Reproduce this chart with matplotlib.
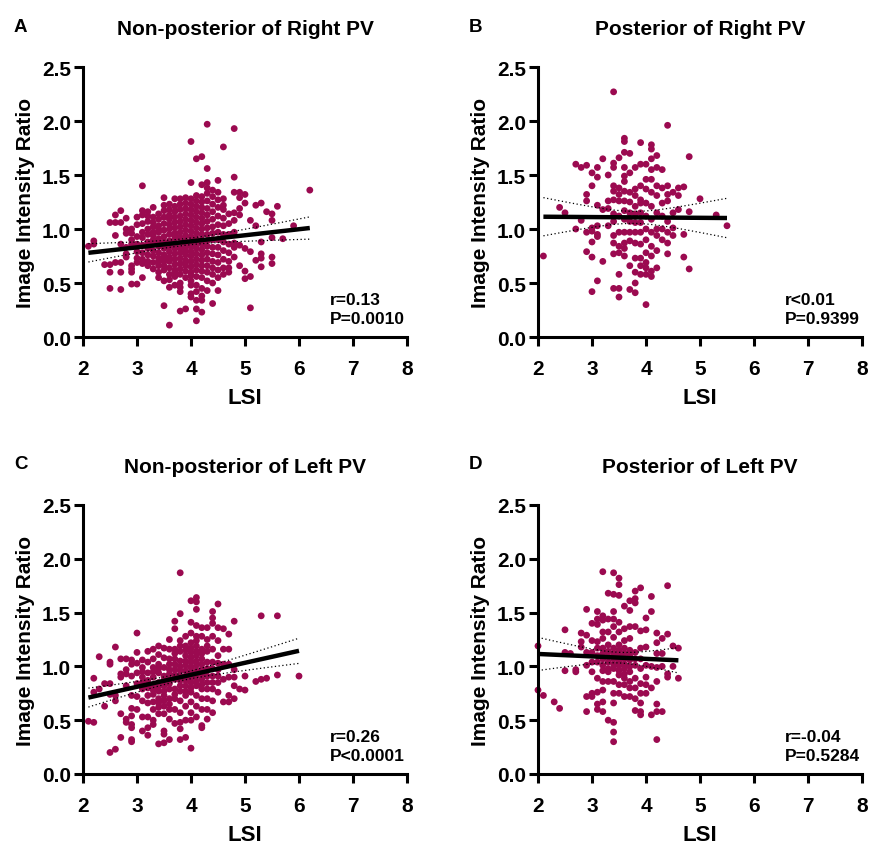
import numpy as np
import matplotlib
matplotlib.use("Agg")
import matplotlib.pyplot as plt

plt.rcParams['font.family'] = ['Liberation Sans', 'DejaVu Sans']
plt.rcParams['font.weight'] = 'bold'

DOT = '#9B0A50'

# ---------------- Panel A: Non-posterior of Right PV ----------------
a_cols = [2.1, 2.2, 2.4, 2.5, 2.6, 2.7, 2.8, 2.9, 3.0, 3.1, 3.2, 3.3, 3.4, 3.5, 3.6,
          3.7, 3.8, 3.9, 4.0, 4.1, 4.2, 4.3, 4.4, 4.5, 4.6, 4.7, 4.8, 4.9, 5.0, 5.1,
          5.2, 5.3, 5.4, 5.5, 5.6, 5.7, 5.9, 6.2]
a_vals = [
    [0.84],
    [0.89, 0.86],
    [0.67],
    [1.06, 0.67, 0.60, 0.45],
    [1.13, 0.94, 0.69, 1.06],
    [1.17, 1.06, 0.86, 0.69, 0.60, 0.44],
    [1.10, 1.00, 0.96, 0.83, 0.74, 0.77],
    [1.00, 0.96, 0.86, 0.66, 0.60, 0.49, 0.63, 0.90],
    [1.11, 0.93, 0.79, 0.69, 0.49, 0.86, 1.04, 0.73],
    [1.40, 1.17, 1.13, 0.97, 0.85, 0.68, 0.55, 0.78, 1.05, 0.92, 0.72],
    [1.16, 1.00, 0.76, 0.88, 0.95, 1.07, 0.70, 0.82, 0.66, 1.12],
    [1.20, 1.11, 0.94, 0.69, 0.80, 0.86, 1.02, 0.75, 0.90, 0.97, 0.63, 1.06],
    [1.03, 0.55, 0.70, 0.78, 0.84, 0.91, 0.97, 1.09, 1.14, 0.66, 0.88, 0.73, 1.00, 0.60],
    [1.29, 0.52, 0.29, 0.62, 0.70, 0.76, 0.82, 0.88, 0.93, 0.99, 1.05, 1.11, 1.17, 1.22, 0.66, 0.73],
    [0.46, 0.11, 0.58, 0.64, 0.70, 0.74, 0.79, 0.84, 0.89, 0.95, 1.00, 1.04, 1.09, 1.13, 1.18, 1.23, 0.53],
    [1.28, 0.48, 0.56, 0.62, 0.67, 0.72, 0.77, 0.82, 0.86, 0.91, 0.96, 1.01, 1.06, 1.11, 1.16, 1.21, 0.60, 0.94],
    [1.28, 0.42, 0.24, 0.50, 0.58, 0.63, 0.68, 0.73, 0.78, 0.82, 0.87, 0.92, 0.97, 1.02, 1.07, 1.12, 1.18, 1.23, 0.46],
    [1.29, 0.26, 0.55, 0.61, 0.66, 0.71, 0.76, 0.80, 0.85, 0.89, 0.94, 0.99, 1.04, 1.09, 1.14, 1.19, 1.24, 0.69, 0.83],
    [1.81, 1.43, 0.40, 0.37, 0.52, 0.60, 0.65, 0.70, 0.75, 0.79, 0.84, 0.88, 0.93, 0.98, 1.03, 1.08, 1.13, 1.18, 1.23, 1.28, 0.57, 0.48],
    [1.65, 0.34, 0.26, 0.15, 0.48, 0.56, 0.62, 0.67, 0.72, 0.77, 0.82, 0.86, 0.91, 0.96, 1.01, 1.06, 1.11, 1.16, 1.21, 1.26, 1.31, 0.42],
    [1.67, 1.41, 0.34, 0.23, 0.45, 0.55, 0.61, 0.66, 0.71, 0.76, 0.81, 0.86, 0.90, 0.95, 1.00, 1.05, 1.10, 1.15, 1.20, 1.25, 1.30, 0.38],
    [1.97, 1.56, 1.43, 0.43, 0.52, 0.60, 0.66, 0.72, 0.78, 0.84, 0.89, 0.95, 1.01, 1.07, 1.13, 1.19, 1.26, 1.33, 1.38],
    [0.31, 0.58, 0.64, 0.70, 0.77, 0.83, 0.90, 0.96, 1.02, 1.09, 1.16, 1.23, 1.30, 1.36, 0.50],
    [1.45, 0.43, 0.55, 0.62, 0.69, 0.76, 0.83, 0.90, 0.97, 1.04, 1.12, 1.20, 1.27, 1.34],
    [1.76, 1.28, 0.58, 0.64, 0.72, 0.80, 0.88, 0.95, 1.03, 1.10, 1.18, 1.22],
    [0.60, 0.70, 0.78, 0.86, 0.95, 1.05, 1.14, 0.64],
    [1.93, 1.48, 1.34, 0.97, 0.83, 0.87, 1.08, 0.74, 1.15],
    [1.34, 1.29, 1.19, 0.66, 0.85, 1.13],
    [1.32, 1.24, 0.82, 0.61, 0.54],
    [1.08, 0.79, 0.56, 0.27],
    [1.22, 1.03, 0.71],
    [1.24, 0.88, 0.77, 0.65, 0.73],
    [1.16],
    [1.14, 1.08, 0.92, 0.74, 0.68],
    [1.21],
    [0.91],
    [1.03],
    [1.36],
]
a_fit = [0.056, 0.662]     # slope, intercept of the drawn regression line

# ---------------- Panel B: Posterior of Right PV ----------------
b_cols = [2.1, 2.4, 2.5, 2.7, 2.8, 2.9, 3.0, 3.1, 3.2, 3.3, 3.4, 3.5, 3.6, 3.7, 3.8,
          3.9, 4.0, 4.1, 4.2, 4.3, 4.4, 4.5, 4.6, 4.7, 4.8, 5.0, 5.3, 5.5]
b_vals = [
    [0.75],
    [1.20],
    [1.15],
    [1.60, 1.00],
    [1.57, 1.08],
    [1.59, 1.32, 1.26, 0.97, 0.79],
    [1.52, 1.40, 1.01, 0.88, 0.74, 0.42, 0.98],
    [1.57, 1.48, 1.22, 1.03, 0.95, 0.93, 0.52],
    [1.65, 1.18, 0.70],
    [1.50, 1.26, 1.19, 1.03],
    [2.27, 1.61, 1.57, 1.40, 1.35, 1.27, 1.14, 1.07, 0.94, 0.87, 0.77, 0.45],
    [1.66, 1.38, 1.32, 1.26, 1.12, 0.97, 0.84, 0.78, 0.58, 0.45, 0.37],
    [1.84, 1.81, 1.71, 1.57, 1.49, 1.44, 1.35, 1.26, 1.17, 1.09, 0.97, 0.87, 0.82, 0.75],
    [1.70, 1.52, 1.34, 1.25, 1.15, 1.07, 0.97, 0.89, 0.66, 0.44],
    [1.57, 1.37, 1.31, 1.21, 1.14, 1.06, 0.97, 0.87, 0.73, 0.60, 0.50, 0.41],
    [1.80, 1.60, 1.40, 1.27, 1.15, 1.06, 0.97, 0.86, 0.73, 0.66, 0.58, 1.24],
    [1.60, 1.46, 1.37, 1.24, 1.12, 1.00, 0.90, 0.78, 0.69, 0.58, 0.30, 0.64],
    [1.78, 1.74, 1.65, 1.55, 1.46, 1.34, 1.21, 1.09, 0.97, 0.84, 0.75, 0.56, 0.61],
    [1.68, 1.57, 1.40, 1.31, 1.15, 1.00, 0.94, 0.80, 0.64],
    [1.55, 1.38, 1.24, 1.12, 1.00, 0.90],
    [1.96, 1.40, 1.32, 1.26, 1.07, 0.87, 0.77, 0.97],
    [1.34, 1.15, 1.01, 0.94],
    [1.38, 1.31, 1.18],
    [1.39, 0.95, 0.74],
    [1.67, 1.16, 0.63],
    [1.28],
    [1.13],
    [1.03],
]
b_fit = [-0.0035, 1.121]

# ---------------- Panel C: Non-posterior of Left PV ----------------
c_cols = [2.1, 2.2, 2.3, 2.4, 2.5, 2.6, 2.7, 2.8, 2.9, 3.0, 3.1, 3.2, 3.3, 3.4, 3.5,
          3.6, 3.7, 3.8, 3.9, 4.0, 4.1, 4.2, 4.3, 4.4, 4.5, 4.6, 4.7, 4.8, 4.9, 5.0,
          5.2, 5.3, 5.4, 5.6, 6.0]
c_vals = [
    [0.49],
    [0.48, 0.89, 0.76],
    [1.09, 0.79],
    [0.84, 0.63],
    [1.04, 1.02, 0.84, 0.74, 0.20],
    [1.18, 0.23, 0.73, 0.68],
    [1.07, 0.93, 0.90, 0.56, 0.34],
    [1.07, 0.97, 0.93, 0.82, 0.51, 0.48],
    [1.06, 1.02, 0.91, 0.73, 0.61, 0.54, 0.46, 0.32, 0.30, 0.43],
    [1.31, 1.13, 0.94, 0.84, 0.60, 1.03, 0.72],
    [1.06, 0.99, 0.90, 0.79, 0.68, 0.53, 0.40, 0.85, 0.95],
    [1.14, 0.94, 0.80, 0.66, 0.43, 0.36, 0.53, 1.04, 0.87, 0.73],
    [1.16, 1.07, 0.99, 0.90, 0.82, 0.74, 0.67, 0.60, 0.46, 0.50, 0.95, 0.78],
    [1.19, 1.11, 1.02, 0.94, 0.85, 0.77, 0.70, 0.62, 0.56, 0.28, 0.98, 0.81, 0.66],
    [1.17, 1.08, 0.99, 0.91, 0.82, 0.73, 0.63, 0.56, 0.40, 0.37, 0.29, 0.87, 0.77, 0.68],
    [1.25, 1.16, 1.07, 0.97, 0.88, 0.79, 0.70, 0.60, 0.51, 0.32, 1.02, 0.84, 0.65, 0.93],
    [1.42, 1.35, 1.16, 1.07, 0.97, 0.88, 0.79, 0.70, 0.60, 0.47, 1.12, 0.92, 0.74, 1.02],
    [1.87, 1.49, 1.24, 1.14, 1.05, 0.96, 0.87, 0.77, 0.68, 0.57, 0.48, 0.42, 0.32, 1.00, 0.82, 0.91, 1.19],
    [1.28, 1.19, 1.10, 1.01, 0.91, 0.82, 0.73, 0.63, 0.50, 0.34, 1.05, 0.87, 0.77, 0.96, 1.15],
    [1.61, 1.41, 1.31, 1.22, 1.13, 1.04, 0.94, 0.85, 0.76, 0.67, 0.57, 0.50, 0.24, 1.08, 0.99, 0.89, 0.80, 1.17],
    [1.64, 1.60, 1.53, 1.38, 1.28, 1.19, 1.10, 1.01, 0.91, 0.82, 0.73, 0.63, 0.53, 1.05, 0.96, 0.86, 1.14, 1.24],
    [1.36, 1.28, 1.16, 1.07, 0.97, 0.88, 0.79, 0.70, 0.60, 0.45, 0.43, 1.02, 0.93, 0.83, 1.12],
    [1.36, 1.25, 1.14, 1.04, 0.91, 0.79, 0.70, 0.60, 0.51, 0.98, 0.85, 1.19],
    [1.51, 1.45, 1.40, 1.28, 1.16, 1.04, 0.91, 0.79, 0.68, 0.57, 0.98, 0.85],
    [1.58, 1.36, 1.24, 1.10, 0.97, 0.85, 0.76, 1.03, 0.91],
    [1.35, 1.16, 0.88, 0.67, 1.02],
    [1.30, 1.16, 1.02, 0.90, 0.73, 0.67],
    [1.42, 0.97, 0.82, 0.70, 0.90],
    [0.79],
    [0.91, 0.78],
    [0.86],
    [1.47, 0.88],
    [0.89],
    [1.47, 0.92],
    [0.91],
]
c_fit = [0.1115, 0.476]

# ---------------- Panel D: Posterior of Left PV ----------------
d_cols = [2.0, 2.1, 2.3, 2.4, 2.5, 2.6, 2.7, 2.8, 2.9, 3.0, 3.1, 3.2, 3.3, 3.4, 3.5,
          3.6, 3.7, 3.8, 3.9, 4.0, 4.1, 4.2, 4.3, 4.4, 4.5, 4.6]
d_vals = [
    [1.19, 0.78],
    [0.73],
    [0.67],
    [0.61],
    [1.34, 1.13, 0.96],
    [1.12],
    [0.97, 0.95],
    [1.31, 1.23, 1.18],
    [1.53, 1.29, 1.13, 1.01, 0.72, 0.58],
    [1.40, 1.24, 1.13, 1.04, 0.95, 0.75, 0.72],
    [1.51, 1.44, 1.39, 1.23, 1.17, 1.04, 0.89, 0.76, 0.65, 0.60, 1.10],
    [1.88, 1.47, 1.43, 1.32, 1.26, 1.17, 1.07, 0.96, 0.86, 0.78, 0.67, 0.58, 1.12, 1.01],
    [1.68, 1.44, 1.32, 1.20, 1.09, 0.98, 0.86, 0.50, 0.95, 1.14, 1.04],
    [1.87, 1.67, 1.51, 1.44, 1.37, 1.27, 1.17, 1.07, 0.98, 0.86, 0.75, 0.66, 0.48, 0.39, 0.30, 1.12, 1.02],
    [1.82, 1.76, 1.66, 1.41, 1.32, 1.20, 1.10, 1.01, 0.92, 0.83, 0.75, 1.15, 1.05, 0.96],
    [1.56, 1.35, 1.24, 1.17, 1.07, 0.98, 0.89, 0.83, 0.72, 1.12, 1.02, 0.93],
    [1.61, 1.52, 1.37, 1.26, 1.15, 1.06, 0.95, 0.86, 0.80, 0.72, 1.10, 1.00],
    [1.70, 1.63, 1.59, 1.37, 1.13, 1.01, 0.89, 0.80, 0.70, 0.59, 1.07],
    [1.73, 1.33, 1.17, 1.07, 0.98, 0.84, 0.75, 0.66, 0.58, 0.55],
    [1.45, 1.34, 1.18, 1.01, 0.90, 0.83, 0.75],
    [1.65, 1.51, 1.00, 0.80, 0.55],
    [1.31, 1.22, 1.12, 0.99, 0.86, 0.65, 0.58, 0.32],
    [1.26, 1.12, 1.00, 0.58],
    [1.75, 1.30, 0.93, 0.90],
    [1.19, 1.00],
    [1.17, 0.89],
]
d_fit = [-0.0227, 1.161]

titles = ["Non-posterior of Right PV", "Posterior of Right PV",
          "Non-posterior of Left PV", "Posterior of Left PV"]
letters = ["A", "B", "C", "D"]
stats = ["r=0.13\nP=0.0010", "r<0.01\nP=0.9399",
         "r=0.26\nP<0.0001", "r=-0.04\nP=0.5284"]
x_ticks = [2, 3, 4, 5, 6, 7, 8]
y_ticks = [0.0, 0.5, 1.0, 1.5, 2.0, 2.5]
x_tick_labels = ["2", "3", "4", "5", "6", "7", "8"]
y_tick_labels = ["0.0", "0.5", "1.0", "1.5", "2.0", "2.5"]


def expand(cols, vals):
    xs, ys = [], []
    for c, v in zip(cols, vals):
        xs += [c] * len(v)
        ys += list(v)
    return np.array(xs), np.array(ys)


panels = [expand(a_cols, a_vals), expand(b_cols, b_vals),
          expand(c_cols, c_vals), expand(d_cols, d_vals)]
fits = [a_fit, b_fit, c_fit, d_fit]

W, H = 869, 845
fig = plt.figure(figsize=(W / 100, H / 100), dpi=100)

lefts = [83, 538, 83, 538]
tops = [68, 68, 506, 506]
bottoms = [338, 338, 775, 775]
right_w = 324

for i, (xs, ys) in enumerate(panels):
    l, t, b = lefts[i], tops[i], bottoms[i]
    ax = fig.add_axes([l / W, 1 - b / H, right_w / W, (b - t) / H])
    ax.scatter(xs, ys, s=24, color=DOT, edgecolors='none', zorder=2, clip_on=False)

    # regression line with 95% confidence band
    slope, icpt = fits[i]
    n = len(xs)
    xx = np.linspace(xs.min(), xs.max(), 100)
    yy = slope * xx + icpt
    resid = ys - (slope * xs + icpt)
    s_err = np.sqrt(np.sum(resid ** 2) / (n - 2))
    sxx = np.sum((xs - xs.mean()) ** 2)
    ci = 1.97 * s_err * np.sqrt(1 / n + (xx - xs.mean()) ** 2 / sxx)
    ax.plot(xx, yy, color='black', lw=3.2, zorder=4, solid_capstyle='butt')
    ax.plot(xx, yy + ci, color='black', lw=0.9, ls=(0, (1, 2)), zorder=3)
    ax.plot(xx, yy - ci, color='black', lw=0.9, ls=(0, (1, 2)), zorder=3)

    ax.set_xlim(2, 8)
    ax.set_ylim(0, 2.5)
    ax.set_xticks(x_ticks)
    ax.set_xticklabels(x_tick_labels)
    ax.set_yticks(y_ticks)
    ax.set_yticklabels(y_tick_labels)
    for sp in ['top', 'right']:
        ax.spines[sp].set_visible(False)
    for sp in ['left', 'bottom']:
        ax.spines[sp].set_linewidth(2.2)
    ax.tick_params(width=2.2, length=6.5, labelsize=15, direction='out')
    ax.tick_params(axis='x', pad=9)
    ax.tick_params(axis='y', pad=2)
    for lab in ax.get_xticklabels() + ax.get_yticklabels():
        lab.set_fontweight('bold')
    ax.set_xlabel("LSI", fontsize=16, fontweight='bold', labelpad=7)
    ax.set_ylabel("Image Intensity Ratio", fontsize=15, fontweight='bold', labelpad=5)
    ax.set_title(titles[i], fontsize=15, fontweight='bold', pad=24)
    ax.text(6.57, 0.26, stats[i], fontsize=12.5, fontweight='bold', va='center',
            ha='left', linespacing=1.35)
    fig.text((l - 69) / W, 1 - (t - 41) / H, letters[i], fontsize=13.5,
             fontweight='bold', va='center', ha='left')

fig.savefig("out.png", dpi=100)
